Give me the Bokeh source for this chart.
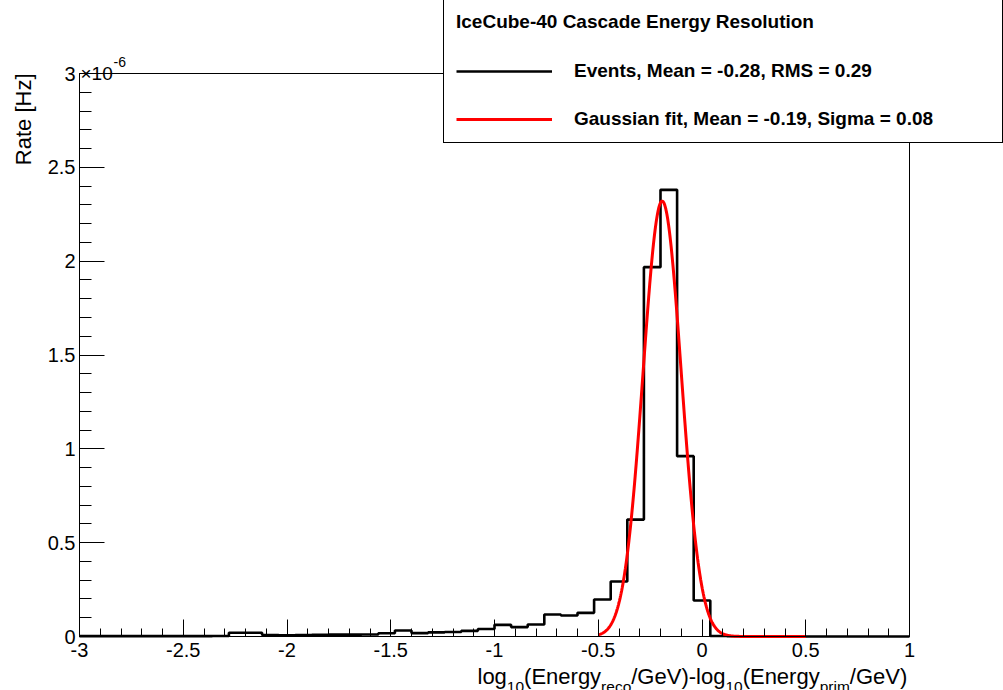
import numpy as np
from bokeh.plotting import figure
from bokeh.models import Range1d, FixedTicker, Label, Legend, LegendItem
from bokeh.embed import file_html
from bokeh.resources import INLINE

# ---------------- data ----------------
x_start, x_end = -3.0, 1.0
y_start, y_end = 0.0, 3.0          # in units of 1e-6 Hz
# histogram bin contents, rate in 1e-6 Hz, 50 bins from -3 to 1
rate_e6 = [0.002, 0.002, 0.002, 0.002, 0.002, 0.002, 0.002, 0.002, 0.003,
           0.020, 0.020,
           0.008, 0.006, 0.008, 0.009, 0.010, 0.010, 0.011,
           0.017, 0.032, 0.018, 0.022, 0.024, 0.030, 0.040,
           0.062, 0.050, 0.064, 0.117, 0.112, 0.126, 0.197, 0.293,
           0.623, 1.968, 2.380, 0.961, 0.192,
           0.003, 0.001, 0.0, 0.0, 0.0, 0.0, 0.0, 0.0, 0.0, 0.0, 0.0, 0.0]
fit_mean = -0.192
fit_sigma = 0.092
fit_amp = 2.32
fit_lo, fit_hi = -0.5, 0.5

x_major = [-3.0, -2.5, -2.0, -1.5, -1.0, -0.5, 0.0, 0.5, 1.0]
x_major_labels = ["-3", "-2.5", "-2", "-1.5", "-1", "-0.5", "0", "0.5", "1"]
y_major = [0.0, 0.5, 1.0, 1.5, 2.0, 2.5, 3.0]
y_major_labels = ["0", "0.5", "1", "1.5", "2", "2.5", "3"]

legend_title = "IceCube-40 Cascade Energy Resolution"
events_label = "Events, Mean = -0.28, RMS = 0.29"
fit_label = "Gaussian fit, Mean = -0.19, Sigma = 0.08"
y_title = "Rate [Hz]"
x_title_parts = [("log", False), ("10", True), ("(Energy", False), ("reco", True),
                 ("/GeV)-log", False), ("10", True), ("(Energy", False), ("prim", True),
                 ("/GeV)", False)]

# ---------------- layout ----------------
W, H = 1003, 690
FL, FR, FT, FB = 79, 909, 73, 636   # plot-area edges in canvas px
FONT = "Liberation Sans"

px_x = (FR - FL) / (x_end - x_start)
px_y = (FB - FT) / (y_end - y_start)
xr = Range1d(x_start - FL / px_x, x_end + (W - FR) / px_x)
yr = Range1d(y_start - (H - FB) / px_y, y_end + FT / px_y)

p = figure(width=W, height=H, x_range=xr, y_range=yr,
           output_backend="svg", toolbar_location=None,
           min_border=0, min_border_left=0, min_border_right=0, min_border_top=0, min_border_bottom=0)
p.background_fill_color = "white"
p.border_fill_color = "white"
p.outline_line_color = None
p.xgrid.visible = False
p.ygrid.visible = False

# plot frame
p.quad(left=[x_start], right=[x_end], bottom=[y_start], top=[y_end],
       fill_color=None, line_color="black", line_width=1)

x_minor = [round(v, 2) for v in np.arange(x_start, x_end + 1e-9, 0.1)]
y_minor = [round(v, 2) for v in np.arange(y_start, y_end + 1e-9, 0.1)]

xa = p.xaxis[0]
xa.fixed_location = y_start
xa.bounds = (x_start, x_end)
xa.ticker = FixedTicker(ticks=x_major, minor_ticks=x_minor)
xa.major_label_overrides = {v: s for v, s in zip(x_major, x_major_labels)}
xa.major_tick_in = 17
xa.major_tick_out = 0
xa.minor_tick_in = 8
xa.minor_tick_out = 0
xa.major_label_standoff = 6

ya = p.yaxis[0]
ya.fixed_location = x_start
ya.bounds = (y_start, y_end)
ya.ticker = FixedTicker(ticks=y_major, minor_ticks=y_minor)
ya.major_label_overrides = {v: s for v, s in zip(y_major, y_major_labels)}
ya.major_tick_in = 25
ya.major_tick_out = 0
ya.minor_tick_in = 12
ya.minor_tick_out = 0
ya.major_label_standoff = 4

for ax in (xa, ya):
    ax.axis_line_color = "black"
    ax.axis_line_width = 1
    ax.major_tick_line_color = "black"
    ax.minor_tick_line_color = "black"
    ax.major_tick_line_width = 1
    ax.minor_tick_line_width = 1
    ax.major_label_text_font = FONT
    ax.major_label_text_font_size = "20px"
    ax.major_label_text_color = "black"

# ---------------- glyphs ----------------
edges = np.linspace(x_start, x_end, len(rate_e6) + 1)
step_y = list(rate_e6) + [rate_e6[-1]]
r_hist = p.step(edges, step_y, mode="after", line_color="black", line_width=2.6)

xf = np.linspace(fit_lo, fit_hi, 400)
yf = fit_amp * np.exp(-0.5 * ((xf - fit_mean) / fit_sigma) ** 2)
r_fit = p.line(xf, yf, line_color="red", line_width=3)

# ---------------- legend ----------------
legend = Legend(items=[LegendItem(label=events_label, renderers=[r_hist]),
                       LegendItem(label=fit_label, renderers=[r_fit])],
                location=(443, H - 143), title=legend_title,
                title_text_font=FONT, title_text_font_style="bold", title_text_font_size="19px",
                title_text_color="black", title_standoff=27,
                label_text_font=FONT, label_text_font_style="bold", label_text_font_size="19px",
                label_text_color="black",
                glyph_width=96, glyph_height=20, label_standoff=22, label_width=416, label_height=20,
                spacing=26, padding=12, margin=0,
                border_line_color="black", border_line_width=1, border_line_alpha=1.0,
                background_fill_color="white", background_fill_alpha=1.0)
p.add_layout(legend)

# ---------------- texts ----------------
def canvas_label(cx, cy, text, size, **kw):
    return Label(x=cx, y=H - cy, x_units="screen", y_units="screen", text=text,
                 text_font=FONT, text_font_size=size, text_color="black", **kw)

p.add_layout(canvas_label(80, 73, "\u00d710", "19px", text_baseline="alphabetic", text_align="left"))
p.add_layout(canvas_label(113, 61, "-6", "14px", text_baseline="alphabetic", text_align="left"))
p.add_layout(canvas_label(23, 73, y_title, "22px", angle=np.pi / 2, text_align="right",
                          text_baseline="middle"))

# x title assembled from pieces (Arial advance widths per 1000 em)
adv = {'l': 222, 'o': 556, 'g': 556, '(': 333, ')': 333, 'E': 667, 'n': 556, 'e': 556, 'r': 333,
       'y': 500, '/': 278, 'G': 778, 'V': 667, '-': 333, '1': 556, '0': 556, 'c': 500, 'p': 556,
       'i': 222, 'm': 833}
F_MAIN, F_SUB = 22.0, 15.5
cx = 477
for txt, sub in x_title_parts:
    fs = F_SUB if sub else F_MAIN
    cy = 686 if sub else 676
    p.add_layout(canvas_label(cx, cy, txt, f"{fs}px", text_baseline="alphabetic", text_align="left"))
    cx += sum(adv[c] for c in txt) * fs / 1000.0

open("out.html", "w").write(file_html(p, INLINE))
